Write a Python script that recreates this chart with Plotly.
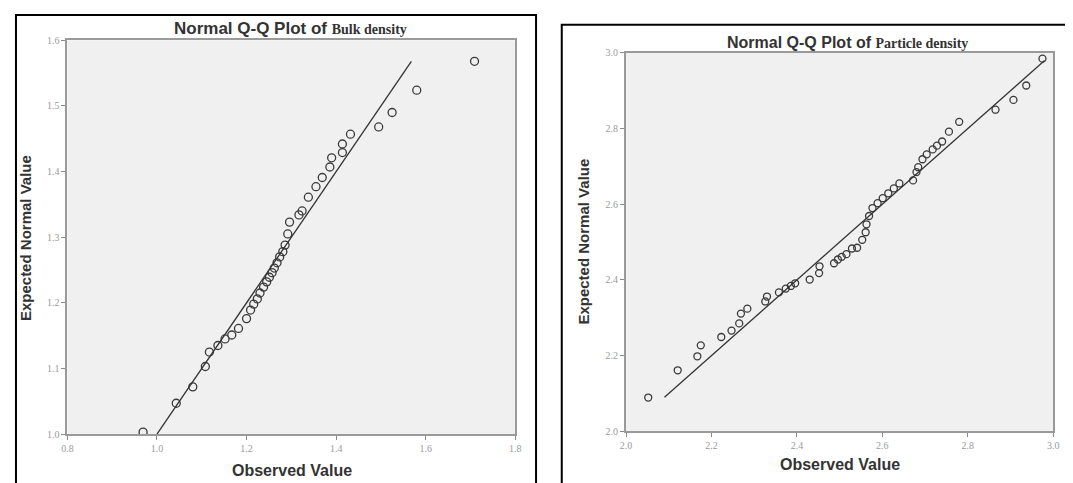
import plotly.graph_objects as go

W0, H0 = 1073, 483
OFF = 8  # default page body margin
W, H = W0 - OFF, H0 - OFF

# ---- data: Bulk density ----
bulk_observed = [0.969, 1.043, 1.080, 1.108, 1.117, 1.136, 1.152, 1.167, 1.182, 1.200,
                 1.209, 1.216, 1.224, 1.230, 1.238, 1.245, 1.251, 1.257, 1.262, 1.268,
                 1.274, 1.281, 1.286, 1.292, 1.296, 1.317, 1.324, 1.338, 1.355, 1.369,
                 1.386, 1.390, 1.414, 1.414, 1.432, 1.495, 1.525, 1.580, 1.709]
bulk_expected = [1.003, 1.047, 1.072, 1.103, 1.125, 1.135, 1.145, 1.151, 1.161, 1.176,
                 1.189, 1.198, 1.206, 1.215, 1.224, 1.232, 1.239, 1.246, 1.253, 1.261,
                 1.270, 1.278, 1.288, 1.305, 1.323, 1.334, 1.340, 1.361, 1.377, 1.391,
                 1.407, 1.421, 1.429, 1.442, 1.457, 1.468, 1.490, 1.524, 1.568]
bulk_line = [1.0, 1.568]

# ---- data: Particle density ----
part_observed = [2.052, 2.121, 2.167, 2.175, 2.223, 2.247, 2.265, 2.269, 2.284, 2.326,
                 2.330, 2.358, 2.374, 2.386, 2.396, 2.430, 2.452, 2.453, 2.487, 2.496,
                 2.505, 2.516, 2.529, 2.541, 2.553, 2.561, 2.563, 2.569, 2.577, 2.589,
                 2.601, 2.614, 2.627, 2.640, 2.672, 2.680, 2.684, 2.694, 2.704, 2.718,
                 2.728, 2.740, 2.756, 2.780, 2.865, 2.907, 2.937, 2.975]
part_expected = [2.089, 2.161, 2.198, 2.227, 2.249, 2.266, 2.285, 2.311, 2.324, 2.343,
                 2.356, 2.367, 2.377, 2.384, 2.391, 2.401, 2.418, 2.436, 2.444, 2.454,
                 2.461, 2.468, 2.483, 2.485, 2.506, 2.526, 2.547, 2.569, 2.590, 2.603,
                 2.616, 2.629, 2.642, 2.655, 2.663, 2.685, 2.698, 2.719, 2.732, 2.745,
                 2.755, 2.766, 2.792, 2.818, 2.850, 2.876, 2.914, 2.985]
part_line = [2.09, 2.98]

titles = ["Bulk density", "Particle density"]

fig = go.Figure()

marker = dict(symbol="circle-open", size=8, color="#3a3a3a", line=dict(width=1.3))

fig.add_trace(go.Scatter(x=bulk_observed, y=bulk_expected, mode="markers",
                         marker=marker, xaxis="x", yaxis="y", showlegend=False))
fig.add_trace(go.Scatter(x=bulk_line, y=bulk_line, mode="lines",
                         line=dict(color="#333333", width=1.3), xaxis="x", yaxis="y",
                         showlegend=False))
fig.add_trace(go.Scatter(x=part_observed, y=part_expected, mode="markers",
                         marker=dict(marker, size=7), xaxis="x2", yaxis="y2", showlegend=False))
fig.add_trace(go.Scatter(x=part_line, y=part_line, mode="lines",
                         line=dict(color="#333333", width=1.3), xaxis="x2", yaxis="y2",
                         showlegend=False))

def px_x(p):
    return (p - OFF) / W

def px_y(p):
    return (H0 - p) / H

axis_common = dict(showline=True, linecolor="#9a9a9a", linewidth=2, mirror=True,
                   showgrid=False, zeroline=False, ticks="outside", ticklen=4,
                   tickcolor="#8a8a8a", tickformat=".1f",
                   tickfont=dict(family="Liberation Serif", size=10, color="#9a9a9a"))

fig.update_layout(
    width=W, height=H,
    margin=dict(l=0, r=0, t=0, b=0),
    paper_bgcolor="white",
    plot_bgcolor="#f0f0f0",
    xaxis=dict(axis_common, domain=[px_x(62), px_x(515)], range=[0.8, 1.8], dtick=0.2,
               anchor="y"),
    yaxis=dict(axis_common, domain=[px_y(439), px_y(35)], range=[1.0, 1.6], dtick=0.1,
               anchor="x"),
    xaxis2=dict(axis_common, domain=[px_x(627), px_x(1059)], range=[2.0, 3.0], dtick=0.2,
                anchor="y2"),
    yaxis2=dict(axis_common, domain=[px_y(436), px_y(48)], range=[2.0, 3.0], dtick=0.2,
                anchor="x2"),
)

ann = []
title_tpl = ("<b>Normal Q-Q Plot of </b><span style='font-family:Liberation Serif;"
             "font-size:14px;font-weight:bold'>{}</span>")
ann.append(dict(x=px_x(288), y=px_y(23), text=title_tpl.format(titles[0]), size=17))
ann.append(dict(x=px_x(851), y=px_y(37), text=title_tpl.format(titles[1]), size=16))
ann.append(dict(x=px_x(289), y=px_y(476), text="<b>Observed Value</b>", size=16))
ann.append(dict(x=px_x(843), y=px_y(470), text="<b>Observed Value</b>", size=16))
ann.append(dict(x=px_x(19), y=px_y(238), text="<b>Expected Normal Value</b>", size=15,
                textangle=-90))
ann.append(dict(x=px_x(584), y=px_y(242), text="<b>Expected Normal Value</b>", size=15,
                textangle=-90))
for a in ann:
    sz = a.pop("size")
    a.update(xref="paper", yref="paper", showarrow=False, xanchor="center", yanchor="middle",
             font=dict(family="Liberation Sans", size=sz, color="#333333"))
fig.update_layout(annotations=ann)

fig.update_layout(shapes=[
    dict(type="rect", xref="paper", yref="paper", x0=px_x(10), x1=px_x(536),
         y0=px_y(495), y1=px_y(9), line=dict(color="black", width=2)),
    dict(type="rect", xref="paper", yref="paper", x0=px_x(562), x1=px_x(1085),
         y0=px_y(495), y1=px_y(19), line=dict(color="black", width=2)),
])

fig.write_html("out.html")
